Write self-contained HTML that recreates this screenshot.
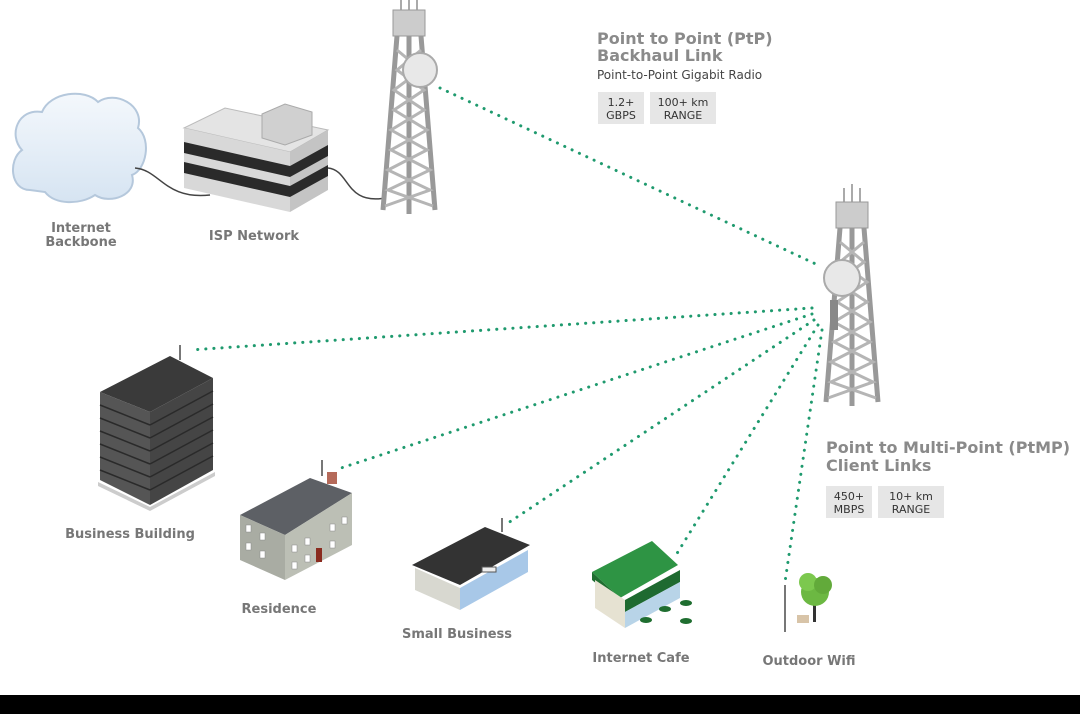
<!DOCTYPE html>
<html><head><style>
html,body{margin:0;padding:0;background:#fff;}
svg{display:block;}
text{font-family:"DejaVu Sans","Liberation Sans",sans-serif;}
</style></head><body>
<svg width="1080" height="714" viewBox="0 0 1080 714" xmlns="http://www.w3.org/2000/svg">
<defs>
<linearGradient id="cl" x1="0" y1="0" x2="0" y2="1"><stop offset="0" stop-color="#f4f8fc"/><stop offset="1" stop-color="#d6e4f2"/></linearGradient>
<g id="tower">
 <line x1="-8" y1="0" x2="-8" y2="-14" stroke="#aaa" stroke-width="2"/>
 <line x1="0" y1="0" x2="0" y2="-18" stroke="#aaa" stroke-width="2"/>
 <line x1="8" y1="0" x2="8" y2="-14" stroke="#aaa" stroke-width="2"/>
 <rect x="-16" y="0" width="32" height="26" fill="#ccc" stroke="#999"/>
 <path d="M-12 26 L-26 200 M12 26 L26 200 M0 26 L0 204" stroke="#999" stroke-width="5" fill="none"/>
 <path d="M-12 40 L12 60 L-15 80 L15 100 L-18 120 L18 140 L-21 160 L21 180 L-24 196 M12 40 L-12 60 L15 80 L-15 100 L18 120 L-18 140 L21 160 L-21 180 L24 196" stroke="#b5b5b5" stroke-width="3" fill="none"/>
</g>
</defs>

<!-- cloud -->
<path d="M30 190 C10 190 8 160 22 150 C8 135 18 108 42 112 C50 92 85 88 98 102 C115 90 145 105 138 128 C152 140 146 170 132 175 C138 195 110 205 95 195 C80 205 55 205 45 192 Z" fill="url(#cl)" stroke="#b5c8dc" stroke-width="2"/>
<text x="81" y="232" font-size="13" font-weight="bold" fill="#777" text-anchor="middle">Internet</text>
<text x="81" y="246" font-size="13" font-weight="bold" fill="#777" text-anchor="middle">Backbone</text>
<path d="M135 168 C160 170 165 200 210 195" stroke="#444" stroke-width="1.5" fill="none"/>
<path d="M328 168 C350 170 345 205 385 198" stroke="#444" stroke-width="1.5" fill="none"/>

<!-- ISP building -->
<polygon points="184,128 225,108 328,130 290,152" fill="#e4e4e4" stroke="#bbb"/>
<polygon points="184,128 290,152 290,212 184,188" fill="#d8d8d8"/>
<polygon points="290,152 328,130 328,190 290,212" fill="#c4c4c4"/>
<polygon points="184,142 290,166 290,177 184,153" fill="#2a2a2a"/>
<polygon points="290,166 328,145 328,156 290,177" fill="#2a2a2a"/>
<polygon points="184,162 290,186 290,197 184,173" fill="#2a2a2a"/>
<polygon points="290,186 328,165 328,176 290,197" fill="#2a2a2a"/>
<polygon points="262,114 285,104 312,112 312,135 285,145 262,138" fill="#d0d0d0" stroke="#aaa"/>
<text x="254" y="240" font-size="13" font-weight="bold" fill="#777" text-anchor="middle">ISP Network</text>

<!-- towers -->
<use href="#tower" x="409" y="10"/>
<circle cx="420" cy="70" r="17" fill="#e8e8e8" stroke="#aaa" stroke-width="2"/>
<use href="#tower" x="852" y="202"/>
<circle cx="842" cy="278" r="18" fill="#e8e8e8" stroke="#aaa" stroke-width="2"/>
<rect x="830" y="300" width="8" height="30" fill="#888"/>

<!-- links -->
<g stroke="#1f9a6e" stroke-width="3" stroke-dasharray="0.1 8" stroke-linecap="round" fill="none">
 <line x1="440" y1="88" x2="820" y2="266"/>
 <line x1="812" y1="308" x2="190" y2="350"/>
 <line x1="812" y1="314" x2="335" y2="470"/>
 <line x1="814" y1="320" x2="505" y2="525"/>
 <line x1="818" y1="325" x2="676" y2="555"/>
 <line x1="822" y1="330" x2="785" y2="582"/>
</g>

<!-- PtP text -->
<text x="597" y="44" font-size="16" font-weight="bold" fill="#8a8a8a">Point to Point (PtP)</text>
<text x="597" y="61" font-size="16" font-weight="bold" fill="#8a8a8a">Backhaul Link</text>
<text x="597" y="79" font-size="12" fill="#444">Point-to-Point Gigabit Radio</text>
<rect x="598" y="92" width="46" height="32" fill="#e6e6e6"/>
<text x="621" y="106" font-size="11" fill="#333" text-anchor="middle">1.2+</text>
<text x="621" y="119" font-size="11" fill="#333" text-anchor="middle">GBPS</text>
<rect x="650" y="92" width="66" height="32" fill="#e6e6e6"/>
<text x="683" y="106" font-size="11" fill="#333" text-anchor="middle">100+ km</text>
<text x="683" y="119" font-size="11" fill="#333" text-anchor="middle">RANGE</text>

<!-- PtMP text -->
<text x="826" y="453" font-size="16" font-weight="bold" fill="#8a8a8a">Point to Multi-Point (PtMP)</text>
<text x="826" y="471" font-size="16" font-weight="bold" fill="#8a8a8a">Client Links</text>
<rect x="826" y="486" width="46" height="32" fill="#e6e6e6"/>
<text x="849" y="500" font-size="11" fill="#333" text-anchor="middle">450+</text>
<text x="849" y="513" font-size="11" fill="#333" text-anchor="middle">MBPS</text>
<rect x="878" y="486" width="66" height="32" fill="#e6e6e6"/>
<text x="911" y="500" font-size="11" fill="#333" text-anchor="middle">10+ km</text>
<text x="911" y="513" font-size="11" fill="#333" text-anchor="middle">RANGE</text>

<!-- business building -->
<line x1="180" y1="345" x2="180" y2="360" stroke="#777" stroke-width="2"/>
<polygon points="100,392 170,356 213,378 150,412" fill="#3a3a3a"/>
<polygon points="100,392 150,412 150,505 100,480" fill="#555"/>
<polygon points="150,412 213,378 213,470 150,505" fill="#454545"/>
<g stroke="#2a2a2a" stroke-width="1.5">
 <line x1="100" y1="405" x2="150" y2="425"/><line x1="100" y1="418" x2="150" y2="438"/><line x1="100" y1="431" x2="150" y2="451"/><line x1="100" y1="444" x2="150" y2="464"/><line x1="100" y1="457" x2="150" y2="477"/><line x1="100" y1="470" x2="150" y2="490"/>
 <line x1="150" y1="425" x2="213" y2="391"/><line x1="150" y1="438" x2="213" y2="404"/><line x1="150" y1="451" x2="213" y2="417"/><line x1="150" y1="464" x2="213" y2="430"/><line x1="150" y1="477" x2="213" y2="443"/><line x1="150" y1="490" x2="213" y2="456"/>
</g>
<polygon points="98,482 150,507 215,472 215,476 150,511 98,486" fill="#ccc"/>
<text x="130" y="538" font-size="13" font-weight="bold" fill="#777" text-anchor="middle">Business Building</text>

<!-- residence -->
<line x1="322" y1="460" x2="322" y2="476" stroke="#777" stroke-width="2"/>
<rect x="327" y="472" width="10" height="12" fill="#b56a5a"/>
<polygon points="240,515 310,478 352,493 285,535" fill="#5d6065"/>
<polygon points="240,515 285,535 285,580 240,560" fill="#a9aca3"/>
<polygon points="285,535 352,493 352,545 285,580" fill="#bcbfb5"/>
<g fill="#fff" stroke="#888" stroke-width="0.5">
<rect x="246" y="525" width="5" height="7"/><rect x="260" y="533" width="5" height="7"/><rect x="246" y="543" width="5" height="7"/><rect x="260" y="551" width="5" height="7"/>
<rect x="292" y="545" width="5" height="7"/><rect x="305" y="538" width="5" height="7"/><rect x="330" y="524" width="5" height="7"/><rect x="342" y="517" width="5" height="7"/>
<rect x="292" y="562" width="5" height="7"/><rect x="305" y="555" width="5" height="7"/><rect x="330" y="541" width="5" height="7"/>
</g>
<rect x="316" y="548" width="6" height="14" fill="#8a2b1f"/>
<text x="279" y="613" font-size="13" font-weight="bold" fill="#777" text-anchor="middle">Residence</text>

<!-- small business -->
<line x1="502" y1="518" x2="502" y2="532" stroke="#777" stroke-width="2"/>
<polygon points="412,565 485,527 530,545 460,585" fill="#333"/>
<polygon points="415,568 460,588 460,610 415,590" fill="#d8d8d0"/>
<polygon points="460,588 528,550 528,572 460,610" fill="#a8c8e8"/>
<rect x="482" y="567" width="14" height="5" fill="#eee" stroke="#555"/>
<text x="457" y="638" font-size="13" font-weight="bold" fill="#777" text-anchor="middle">Small Business</text>

<!-- cafe -->
<polygon points="592,572 652,541 678,565 620,598" fill="#2e9444"/>
<polygon points="592,572 620,598 620,603 592,580" fill="#1f6e30"/>
<polygon points="595,580 625,600 625,628 595,608" fill="#e6e2d2"/>
<polygon points="625,600 680,570 680,582 625,612" fill="#1e6a30"/>
<polygon points="625,612 680,582 680,598 625,628" fill="#b8d4e8"/>
<g fill="#1f6e30"><ellipse cx="646" cy="620" rx="6" ry="3"/><ellipse cx="665" cy="609" rx="6" ry="3"/><ellipse cx="686" cy="603" rx="6" ry="3"/><ellipse cx="686" cy="621" rx="6" ry="3"/></g>
<text x="641" y="662" font-size="13" font-weight="bold" fill="#777" text-anchor="middle">Internet Cafe</text>

<!-- outdoor wifi -->
<line x1="785" y1="585" x2="785" y2="632" stroke="#777" stroke-width="2"/>
<rect x="797" y="615" width="12" height="8" fill="#d8c4a8"/>
<rect x="813" y="600" width="3" height="22" fill="#333"/>
<circle cx="815" cy="592" r="14" fill="#6cb842"/><circle cx="808" cy="582" r="9" fill="#7cc84e"/><circle cx="823" cy="585" r="9" fill="#62aa3a"/>
<text x="809" y="665" font-size="13" font-weight="bold" fill="#777" text-anchor="middle">Outdoor Wifi</text>

<rect x="0" y="695" width="1080" height="19" fill="#000"/>
</svg>
</body></html>
